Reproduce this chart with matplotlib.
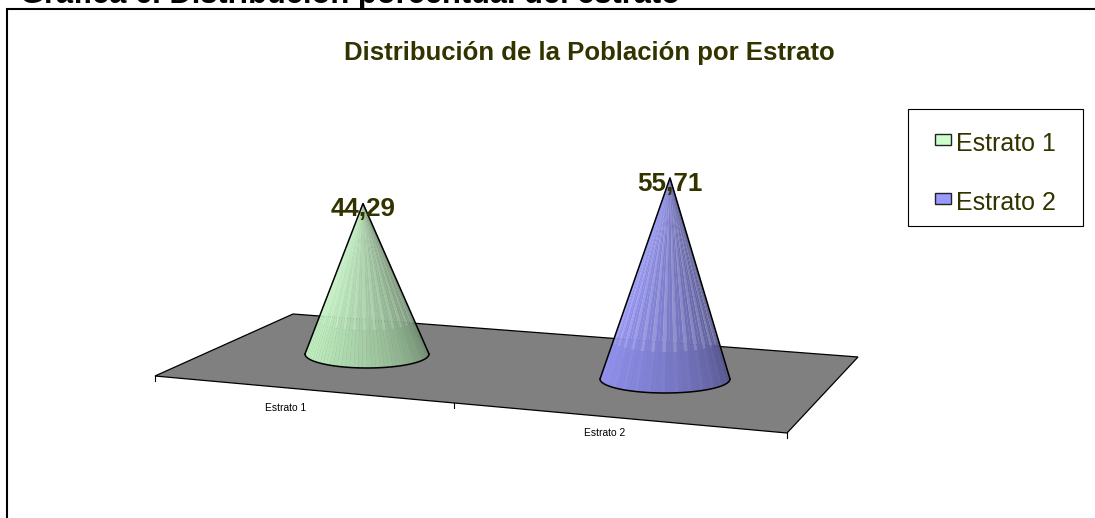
#!/usr/bin/env python3
import matplotlib
matplotlib.use("Agg")
import matplotlib.pyplot as plt
import numpy as np
from matplotlib.colors import to_rgb
from matplotlib.patches import Polygon, Rectangle

plt.rcParams["font.family"] = ["Liberation Sans", "DejaVu Sans"]

# data
categories = ["Estrato 1", "Estrato 2"]
values = [44.29, 55.71]
value_labels = ["44,29", "55,71"]
heading = "Gráfica 6. Distribución porcentual del estrato"
title = "Distribución de la Población por Estrato"

# layout, all in image pixels
W, H = 1095, 518
BASE_CENTER = [(367, 354), (665, 379)]
BASE_RX = [62, 65]
BASE_RY = 14
APEX_DX = [-4, 5]            # apex leans a bit in this perspective
PX_PER_UNIT = [3.40, 3.61]   # nearer cone is drawn bigger
BAND_Y = [320, 341]          # where the floor's back edge crosses the cone
FILL = ["#CCFFCC", "#9999FF"]
TEXT = "#333300"
FLOOR = [(155, 376), (293, 314), (858, 357), (787, 433)]
TICKS = [(155, 376), (454, 403), (787, 433)]
CAT_LABEL_POS = [(286, 408), (604.5, 433)]
LEGEND_Y = [144, 203]


def mix(a, b, t):
    return tuple((1 - t) * x + t * y for x, y in zip(a, b))


def draw_cone(ax, i):
    cx, cy = BASE_CENTER[i]
    rx = BASE_RX[i]
    apex = (cx + APEX_DX[i], cy - values[i] * PX_PER_UNIT[i])
    base = to_rgb(FILL[i])
    dark = mix(base, (0, 0, 0), 0.47)
    white = (1, 1, 1)
    n = 44
    # front half of the base ellipse, left to right
    ang = np.linspace(np.pi, 0, n + 1)
    ex = cx + rx * np.cos(ang)
    ey = cy + BASE_RY * np.sin(ang)
    band = (BAND_Y[i] - apex[1]) / (cy - apex[1])
    for k in range(n):
        t = k / (n - 1)
        col = mix(base, dark, 0.10 + 0.90 * t ** 1.4)
        if k % 3 == 0:
            col = mix(col, white, 0.03)
        up = mix(col, white, 0.02 + (0.14 if k % 3 == 0 else 0))
        x0, y0, x1, y1 = ex[k], ey[k], ex[k + 1], ey[k + 1]
        # band position along each generator line
        a0 = (apex[0] + (x0 - apex[0]) * band, apex[1] + (y0 - apex[1]) * band)
        a1 = (apex[0] + (x1 - apex[0]) * band, apex[1] + (y1 - apex[1]) * band)
        ax.add_patch(Polygon([apex, a0, a1], closed=True, fc=up, ec=up, lw=0.2, zorder=3))
        ax.add_patch(Polygon([a0, (x0, y0), (x1, y1), a1], closed=True, fc=col, ec=col, lw=0.2, zorder=3))
    # outline
    ax.plot([ex[0], apex[0], ex[-1]], [ey[0], apex[1], ey[-1]], color="black", lw=1.1, zorder=4,
            solid_joinstyle="miter")
    ax.plot(ex, ey, color="black", lw=1.1, zorder=4)
    ax.text(apex[0], apex[1] + 6, value_labels[i], color=TEXT, fontsize=18.7, fontweight="bold",
            ha="center", va="center", zorder=5)


def main():
    fig = plt.figure(figsize=(W / 100, H / 100), dpi=100, facecolor="white")
    ax = fig.add_axes([0, 0, 1, 1])
    ax.set_xlim(0, W)
    ax.set_ylim(H, 0)
    ax.axis("off")

    # heading is cut by the top of the page
    ax.text(20, 3.5, heading, color="black", fontsize=22.2, fontweight="bold", ha="left", va="baseline")
    # chart frame, no line on the right
    ax.plot([7, 7, W], [H, 9, 9], color="black", lw=1.5, zorder=1, solid_joinstyle="miter")

    ax.text(589.5, 53, title, color=TEXT, fontsize=18.5, fontweight="bold", ha="center", va="center")

    # floor
    ax.add_patch(Polygon(FLOOR, closed=True, fc="#808080", ec="black", lw=0.9, zorder=2))
    for tx, ty in TICKS:
        ax.plot([tx, tx], [ty, ty + 5], color="black", lw=0.8, zorder=2)
    for name, (lx, ly) in zip(categories, CAT_LABEL_POS):
        ax.text(lx, ly, name, color="black", fontsize=7.4, ha="center", va="center")

    for i in range(len(values)):
        draw_cone(ax, i)

    # legend
    ax.add_patch(Rectangle((908, 109), 175, 117, fc="white", ec="black", lw=0.8, zorder=2))
    for i, name in enumerate(categories):
        ly = LEGEND_Y[i]
        ax.add_patch(Rectangle((935, ly - 10.5), 16, 11, fc=FILL[i], ec="#222222", lw=1.0, zorder=3))
        ax.text(956, ly, name, color=TEXT, fontsize=18, ha="left", va="center", zorder=3)

    fig.savefig("out.png", dpi=100)


if __name__ == "__main__":
    main()
